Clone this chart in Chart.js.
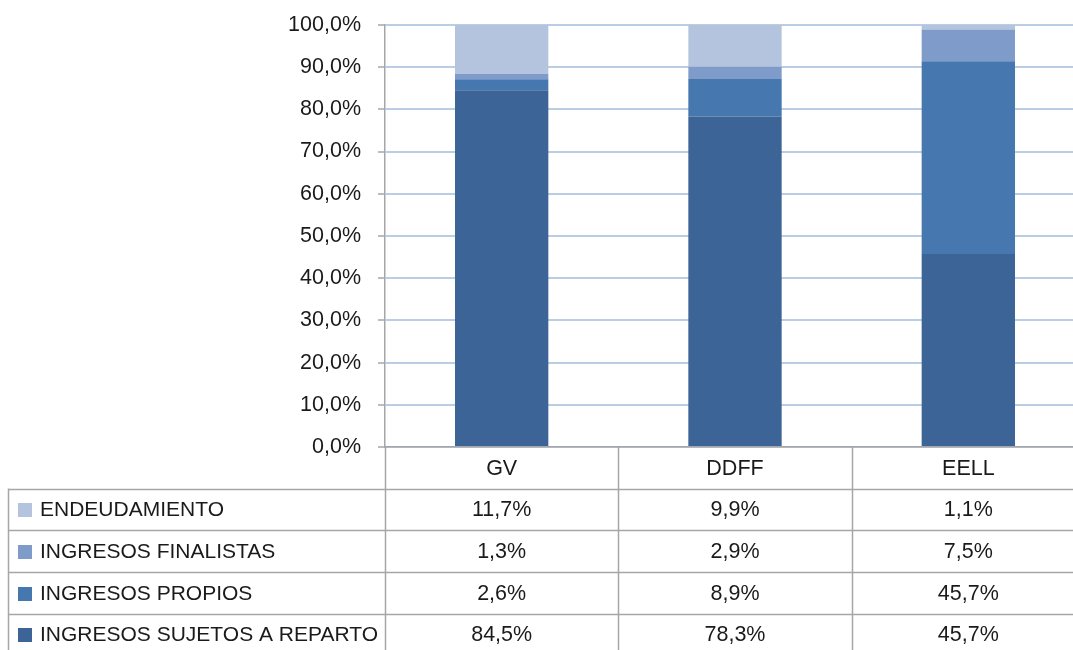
<!DOCTYPE html>
<html>
<head>
<meta charset="utf-8">
<script src="https://cdn.jsdelivr.net/npm/chart.js@4/dist/chart.umd.min.js"></script>
<style>
html,body{margin:0;padding:0;background:#fff;overflow:hidden;width:1073px;height:650px;}
canvas{display:block;position:absolute;left:0;top:-5px;}
</style>
</head>
<body>
<canvas id="c" width="1085" height="655"></canvas>
<script>
const categories = ['GV', 'DDFF', 'EELL'];
const seriesNames = ['INGRESOS SUJETOS A REPARTO', 'INGRESOS PROPIOS', 'INGRESOS FINALISTAS', 'ENDEUDAMIENTO'];
const sujetos = [84.5, 78.3, 45.7];
const propios = [2.6, 8.9, 45.7];
const finalistas = [1.3, 2.9, 7.5];
const endeudamiento = [11.7, 9.9, 1.1];
const seriesColors = ['#3c6496', '#4677af', '#7f9bc9', '#b4c3de'];
const yTicks = [0, 10, 20, 30, 40, 50, 60, 70, 80, 90, 100];

const seriesValues = [sujetos, propios, finalistas, endeudamiento];
const FONT = '"Liberation Sans", Arial, sans-serif';
const fmt = v => v.toFixed(1).replace('.', ',') + '%';

const tablePlugin = {
  id: 'dataTable',
  afterDraw(chart) {
    const ctx = chart.ctx;
    const x = chart.scales.x;
    const area = chart.chartArea;
    const left = area.left, right = area.right, bottom = area.bottom;
    const tableLeft = 8;
    const headerBottom = bottom + 41.5;
    const rowH = 41.7;
    const H = chart.height;
    ctx.save();
    ctx.strokeStyle = '#a6a6a6';
    ctx.lineWidth = 1.5;
    const edges = [left];
    for (let i = 0; i < categories.length; i++) {
      const c = x.getPixelForValue(i);
      const half = (right - left) / categories.length / 2;
      edges.push(c + half);
    }
    ctx.beginPath();
    edges.forEach(e => { ctx.moveTo(Math.round(e) + 0.5, bottom); ctx.lineTo(Math.round(e) + 0.5, H); });
    ctx.moveTo(tableLeft + 0.5, headerBottom); ctx.lineTo(tableLeft + 0.5, H);
    for (let r = 0; r < 4; r++) {
      const yy = Math.round(headerBottom + r * rowH) + 0.5;
      ctx.moveTo(tableLeft, yy); ctx.lineTo(right, yy);
    }
    ctx.stroke();

    ctx.fillStyle = '#1a1a1a';
    ctx.font = '21.5px ' + FONT;
    ctx.textAlign = 'center';
    ctx.textBaseline = 'middle';
    categories.forEach((cat, i) => {
      ctx.fillText(cat, x.getPixelForValue(i), (bottom + headerBottom) / 2 + 1);
    });
    for (let r = 0; r < 4; r++) {
      const si = 3 - r;
      const yc = headerBottom + r * rowH + rowH / 2 + 1;
      ctx.fillStyle = seriesColors[si];
      ctx.fillRect(18, Math.round(yc - 7), 14, 14);
      ctx.fillStyle = '#1a1a1a';
      ctx.textAlign = 'left';
      ctx.font = '21px ' + FONT;
      ctx.fillText(seriesNames[si], 40, yc);
      ctx.font = '21.5px ' + FONT;
      ctx.textAlign = 'center';
      seriesValues[si].forEach((v, i) => {
        ctx.fillText(fmt(v), x.getPixelForValue(i), yc);
      });
    }
    ctx.restore();
  }
};

new Chart(document.getElementById('c'), {
  type: 'bar',
  data: {
    labels: categories,
    datasets: seriesNames.map((n, i) => ({
      label: n,
      data: seriesValues[i],
      backgroundColor: seriesColors[i],
      borderWidth: 0,
      barPercentage: 0.4,
      categoryPercentage: 1.0
    }))
  },
  options: {
    responsive: false,
    animation: false,
    devicePixelRatio: 1,
    layout: { padding: { top: 20, right: 0, left: 0, bottom: 0 } },
    plugins: { legend: { display: false }, tooltip: { enabled: false } },
    scales: {
      x: {
        stacked: true,
        ticks: { display: false },
        grid: { display: false, drawTicks: false },
        border: { display: true, color: '#a6a6a6', width: 1.5 },
        afterFit(s) { s.height = 203; }
      },
      y: {
        stacked: true,
        min: 0,
        max: 100,
        afterBuildTicks(s) { s.ticks = yTicks.map(v => ({ value: v })); },
        ticks: {
          padding: 17,
          color: '#1a1a1a',
          font: { family: FONT, size: 21.5 },
          callback: v => fmt(v)
        },
        grid: { color: '#b9cde5', lineWidth: 2, tickColor: '#a6a6a6', tickLength: 7, tickWidth: 1.5 },
        border: { display: true, color: '#a6a6a6', width: 1.5 },
        afterFit(s) { s.width = 385; }
      }
    }
  },
  plugins: [tablePlugin]
});
</script>
</body>
</html>
